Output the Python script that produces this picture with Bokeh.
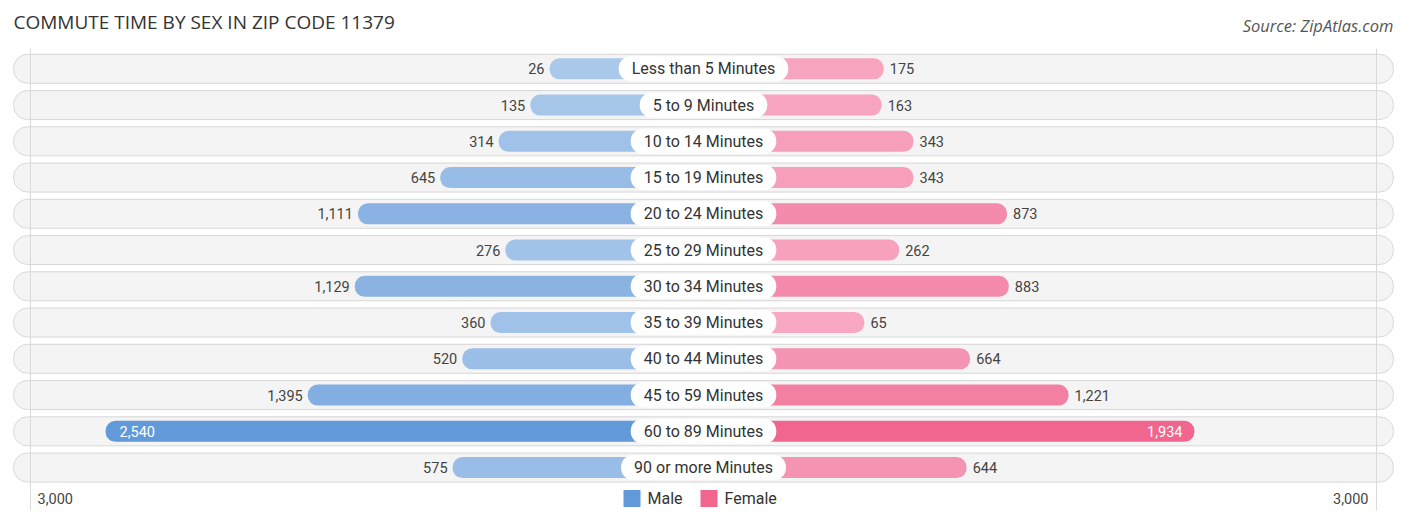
from bokeh.plotting import figure
from bokeh.models import Range1d
from bokeh.core.properties import value
from bokeh.embed import file_html
from bokeh.resources import INLINE

# ---------------- data ----------------
categories = [
    "Less than 5 Minutes", "5 to 9 Minutes", "10 to 14 Minutes", "15 to 19 Minutes",
    "20 to 24 Minutes", "25 to 29 Minutes", "30 to 34 Minutes", "35 to 39 Minutes",
    "40 to 44 Minutes", "45 to 59 Minutes", "60 to 89 Minutes", "90 or more Minutes",
]
male = [26, 135, 314, 645, 1111, 276, 1129, 360, 520, 1395, 2540, 575]
female = [175, 163, 343, 343, 873, 262, 883, 65, 664, 1221, 1934, 644]
axis_tick_label = "3,000"
title_text = "COMMUTE TIME BY SEX IN ZIP CODE 11379"
source_text = "Source: ZipAtlas.com"
legend_labels = ["Male", "Female"]

# ---------------- layout / style ----------------
W, H = 1406, 523
PX = 0.1766            # pixels per count unit
OFFSET = 846           # gap (in count units) reserved for the centre label
AXIS_EDGE = 3811       # position of the faint vertical guide lines
PILL_HALF = 3907       # half length of the background row pills
ROW_PX = 36.25
ROW0_PX = 68.3
half_w = (W / 2) / PX

MALE_LIGHT, MALE_DARK = (170, 200, 234), (97, 153, 217)
FEM_LIGHT, FEM_DARK = (248, 170, 196), (240, 102, 143)


def mix(c0, c1, t):
    return "#%02x%02x%02x" % tuple(int(round(a + (b - a) * t)) for a, b in zip(c0, c1))


def ypx(px):
    return (px - ROW0_PX) / ROW_PX


n = len(categories)
rows = list(range(n))
mmax, fmax = max(male), max(female)

p = figure(width=W, height=H, output_backend="svg", toolbar_location=None,
           min_border=0, outline_line_color=None, background_fill_color="white",
           border_fill_color="white")
p.x_range = Range1d(-half_w, half_w)
top = ypx(0)
p.y_range = Range1d(top + H / ROW_PX, top)
p.axis.visible = False
p.grid.visible = False

# background pills
p.hbar(y=rows, left=-PILL_HALF, right=PILL_HALF, height=0.8,
       fill_color="#f4f4f4", line_color="#d8d8d8", line_width=1, border_radius=14)

# faint guide lines
g_top, g_bot = ypx(48), ypx(510)
p.segment(x0=[-AXIS_EDGE, AXIS_EDGE], x1=[-AXIS_EDGE, AXIS_EDGE], y0=[g_top, g_top],
          y1=[g_bot, g_bot], line_color="#d9d9d9", line_width=1)

# bars
mcol = [mix(MALE_LIGHT, MALE_DARK, v / mmax) for v in male]
fcol = [mix(FEM_LIGHT, FEM_DARK, v / fmax) for v in female]
p.hbar(y=rows, left=[-(OFFSET + v) for v in male], right=0, height=0.58,
       fill_color=mcol, line_color=None, border_radius=10)
p.hbar(y=rows, left=0, right=[OFFSET + v for v in female], height=0.58,
       fill_color=fcol, line_color=None, border_radius=10)

# value labels
font = value("Roboto")
VAL_SIZE = "14.5px"
m_out = [i for i in rows if male[i] != mmax]
m_in = [i for i in rows if male[i] == mmax]
f_out = [i for i in rows if female[i] != fmax]
f_in = [i for i in rows if female[i] == fmax]

p.text(x=[-(OFFSET + male[i]) for i in m_out], y=m_out, text=[f"{male[i]:,}" for i in m_out],
       x_offset=-5, text_align="right", text_baseline="middle", text_font=font,
       text_font_size=VAL_SIZE, text_color="#444444")
p.text(x=[-(OFFSET + male[i]) for i in m_in], y=m_in, text=[f"{male[i]:,}" for i in m_in],
       x_offset=14, text_align="left", text_baseline="middle", text_font=font,
       text_font_size=VAL_SIZE, text_color="white")
p.text(x=[OFFSET + female[i] for i in f_out], y=f_out, text=[f"{female[i]:,}" for i in f_out],
       x_offset=6, text_align="left", text_baseline="middle", text_font=font,
       text_font_size=VAL_SIZE, text_color="#444444")
p.text(x=[OFFSET + female[i] for i in f_in], y=f_in, text=[f"{female[i]:,}" for i in f_in],
       x_offset=-12, text_align="right", text_baseline="middle", text_font=font,
       text_font_size=VAL_SIZE, text_color="white")

# centre category labels (white pills)
p.text(x=[0] * n, y=rows, text=categories, text_align="center", text_baseline="middle",
       text_font=font, text_font_size="16px", text_color="#333333",
       background_fill_color="white", padding=(13, 3), border_radius=12)

# axis end labels
lab_row = ypx(498)
p.text(x=[-AXIS_EDGE], y=[lab_row], text=[axis_tick_label], x_offset=7, text_align="left",
       text_baseline="middle", text_font=font, text_font_size=VAL_SIZE, text_color="#444444")
p.text(x=[AXIS_EDGE], y=[lab_row], text=[axis_tick_label], x_offset=-8, text_align="right",
       text_baseline="middle", text_font=font, text_font_size=VAL_SIZE, text_color="#444444")

# legend
sq_x = [-71.5 / PX, 5.5 / PX]
tx_x = [-56 / PX, 21 / PX]
p.scatter(x=sq_x, y=[lab_row] * 2, marker="square", size=17,
          fill_color=[mix(MALE_LIGHT, MALE_DARK, 1), mix(FEM_LIGHT, FEM_DARK, 1)], line_color=None)
p.text(x=tx_x, y=[lab_row] * 2, text=legend_labels, text_align="left", text_baseline="middle",
       text_font=font, text_font_size="16px", text_color="#333333")

# title & source
p.text(x=[-PILL_HALF], y=[ypx(21.5)], text=[title_text], text_align="left",
       text_baseline="middle", text_font=value("Open Sans"), text_font_size="19px",
       text_color="#333333")
p.text(x=[PILL_HALF], y=[ypx(24.5)], text=[source_text], text_align="right",
       text_baseline="middle", text_font=value("Open Sans"), text_font_size="16.5px",
       text_font_style="italic", text_color="#555555")

open("out.html", "w").write(file_html(p, INLINE))
